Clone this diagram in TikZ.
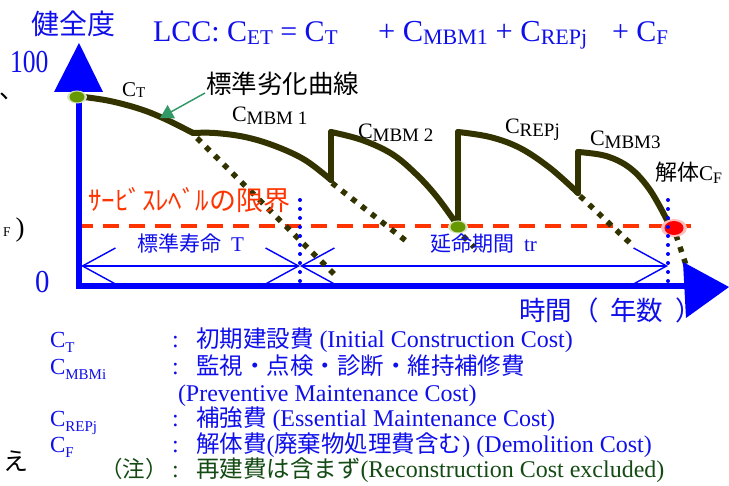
\documentclass[tikz,border=0pt]{standalone}
\usepackage{fontspec}
\setmainfont{Liberation Serif}
\newfontfamily\jp{Noto Sans CJK JP}
\usepackage{graphicx}
\usetikzlibrary{arrows.meta}
\definecolor{tblue}{RGB}{15,15,235}
\definecolor{axblue}{RGB}{0,0,255}
\definecolor{limred}{RGB}{255,51,0}
\definecolor{curvec}{RGB}{51,51,0}
\definecolor{arrgreen}{RGB}{51,153,102}
\definecolor{dotgreen}{RGB}{102,153,0}
\definecolor{halogreen}{RGB}{215,230,190}
\definecolor{halored}{RGB}{255,190,190}
\definecolor{notegreen}{RGB}{20,75,20}
\newcommand\fs[1]{\fontsize{#1}{#1}\selectfont}
\newcommand\Sb[3]{\raisebox{-#1}{\fs{#2}#3}}
\begin{document}
\begin{tikzpicture}[x=1pt,y=-1pt,
  txt/.style={inner sep=0pt, outer sep=0pt, anchor=base west},
  deg/.style={draw=curvec, line width=6pt, line join=round, line cap=round},
  ext/.style={draw=curvec, line width=5.5pt, dash pattern=on 5.5pt off 7pt},
  bdot/.style={draw=axblue, line width=4pt, line cap=round, dash pattern=on 0pt off 9pt},
  dimline/.style={draw=axblue, line width=1.4pt, {Straight Barb[length=33pt,width=36pt]}-{Straight Barb[length=33pt,width=36pt]}},
  limit/.style={draw=limred, line width=4pt, dash pattern=on 16pt off 10pt},
  axis/.style={draw=axblue, line width=6pt},
  leg/.style={txt, text=tblue},
]
\useasboundingbox (0,0) rectangle (729,486);

% coordinates
\coordinate (o) at (78.5,286);
\coordinate (s0) at (84,97);
\coordinate (k1) at (193,133);
\coordinate (m1b) at (331,180);
\coordinate (m1t) at (331,132);
\coordinate (r0) at (458,226);
\coordinate (rt) at (458,132);
\coordinate (m3b) at (578,193);
\coordinate (m3t) at (578,152);
\coordinate (endp) at (668,222);
\coordinate (dL) at (81,266);
\coordinate (dM) at (300,266);
\coordinate (dR) at (668,266);

% dimension lines
\draw[dimline] (dL) -- (dM);
\draw[dimline] (dM) -- (dR);

% service limit
\draw[limit] (77,226) -- (698,226);

% extensions of the deterioration curves
\draw[ext] (197,138) -- (336,276);
\draw[ext] (332,183) -- (410,244);
\draw[ext] (463,236) -- (474,247);
\draw[ext] (580,196) -- (630,243);
\draw[ext] (676,235) -- (693,286);

% axes
\draw[axis] (78.5,289) -- (78.5,90);
\fill[axblue] (54,92) -- (79,43) -- (103,92) -- cycle;
\draw[axis] (75.5,286) -- (690,286);
\fill[axblue] (683,262) -- (729,287) -- (686,318) -- cycle;

% deterioration curve
\draw[deg] plot[smooth, tension=0.6] coordinates {(s0) (110,101) (140,109) (165,119) (k1)};
\draw[deg] plot[smooth, tension=0.6] coordinates {(k1) (215,133) (245,137) (275,146) (305,160) (m1b)};
\draw[deg] (m1b) -- (m1t);
\draw[deg] plot[smooth, tension=0.6] coordinates {(m1t) (362,140) (392,154) (416,174) (437,197) (r0)};
\draw[deg] (r0) -- (rt);
\draw[deg] plot[smooth, tension=0.6] coordinates {(rt) (490,137) (520,148) (550,168) (m3b)};
\draw[deg] (m3b) -- (m3t);
\draw[deg] plot[smooth, tension=0.6] coordinates {(m3t) (606,156) (630,168) (650,190) (endp)};

% markers
\fill[halogreen] (77,97) ellipse [x radius=10, y radius=6.5];
\fill[dotgreen] (77,97) ellipse [x radius=7.5, y radius=5.5];
\fill[halogreen] (458,227) ellipse [x radius=10, y radius=6.5];
\fill[dotgreen] (458,227) ellipse [x radius=7.5, y radius=5.5];
\fill[halored] (674,228) ellipse [x radius=13, y radius=9];
\fill[red] (674,228) ellipse [x radius=9.5, y radius=7];

% blue dotted verticals
\draw[bdot] (300,200) -- (300,285);
\draw[bdot] (668,200) -- (668,285);

% axis labels
\node[txt, text=tblue] (ylab) at (31,35) {\jp\fs{28pt}健全度};
\node[txt, text=tblue] (y100) at (10,73) {\fs{32pt}\scalebox{0.8}[1]{100}};
\node[txt, text=tblue] (y0) at (35,293) {\fs{32pt}\scalebox{0.9}[1]{0}};
\node[txt, text=tblue] (xlab) at (519,321) {\jp\fs{26.5pt}時間（\hspace{12pt}年数\hspace{12pt}）};

% title
\node[txt, text=tblue] (title1) at (153,42) {\fs{30pt}LCC: C\Sb{3pt}{21pt}{ET} = C\Sb{3pt}{21pt}{T}};
\node[txt, text=tblue] (title2) at (378,42) {\fs{30.5pt}+ C\Sb{3pt}{22pt}{MBM1} + C\Sb{3pt}{22pt}{REPj}};
\node[txt, text=tblue] (title3) at (612,42) {\fs{30pt}+ C\Sb{3pt}{21pt}{F}};

% curve labels
\node[txt] (lct) at (122,97) {\fs{21pt}C\Sb{1pt}{15pt}{T}};
\node[txt] (curvelab) at (206,94) {\jp\fs{25.5pt}標準劣化曲線};
\coordinate (arrstart) at (205,93);
\coordinate (arrtip) at (160,118);
\draw[draw=arrgreen, line width=1.5pt, -{Triangle[length=13pt,width=15pt]}] (arrstart) -- (arrtip);
\node[txt] (lm1) at (232,122) {\fs{22pt}C\Sb{3pt}{19pt}{MBM 1}};
\node[txt] (lm2) at (358,139) {\fs{22pt}C\Sb{3pt}{19pt}{MBM 2}};
\node[txt] (lrep) at (505,134) {\fs{22pt}C\Sb{3pt}{19pt}{REPj}};
\node[txt] (lm3) at (590,146) {\fs{22pt}C\Sb{3pt}{19pt}{MBM3}};
\node[txt] (lcf) at (655,181) {{\jp\fs{22pt}解体}{\fs{21pt}C\Sb{3pt}{16pt}{F}}};

% service limit label
\node[txt, text=limred] (limlab) at (88,211) {\jp\fs{27pt}ｻｰﾋﾞｽﾚﾍﾞﾙの限界};

% dimension labels
\node[txt, text=tblue] (tlab) at (137,252) {{\jp\fs{21pt}標準寿命}\hspace{10pt}{\fs{21pt}T}};
\node[txt, text=tblue] (trlab) at (430,252) {{\jp\fs{21pt}延命期間}\hspace{10pt}{\fs{21pt}tr}};

% legend
\node[leg] (c1) at (50,348) {\fs{23pt}C\Sb{5pt}{15pt}{T}};
\node[leg] (k1c) at (172,348) {\fs{24pt}:};
\node[leg] (t1) at (196,348) {{\jp\fs{23.5pt}初期建設費}\fs{24pt} (Initial Construction Cost)};
\node[leg] (c2) at (50,375) {\fs{23pt}C\Sb{5pt}{15pt}{MBMi}};
\node[leg] (k2c) at (172,375) {\fs{24pt}:};
\node[leg] (t2) at (196,375) {\jp\fs{23.5pt}監視・点検・診断・維持補修費};
\node[leg] (t3) at (178,402) {\fs{24pt}(Preventive Maintenance Cost)};
\node[leg] (c4) at (50,427) {\fs{23pt}C\Sb{5pt}{15pt}{REPj}};
\node[leg] (k4c) at (172,427) {\fs{24pt}:};
\node[leg] (t4) at (196,427) {{\jp\fs{23.5pt}補強費}\fs{24pt} (Essential Maintenance Cost)};
\node[leg] (c5) at (50,453) {\fs{23pt}C\Sb{5pt}{15pt}{F}};
\node[leg] (k5c) at (172,453) {\fs{24pt}:};
\node[leg] (t5) at (196,453) {{\jp\fs{23.5pt}解体費}\fs{24pt}({\jp\fs{23.5pt}廃棄物処理費含む}) (Demolition Cost)};
\node[txt, text=notegreen] (c6) at (100,478) {\jp\fs{22.5pt}（注）};
\node[txt, text=notegreen] (k6c) at (172,478) {\fs{24pt}:};
\node[txt, text=notegreen] (t6) at (196,478) {{\jp\fs{23.5pt}再建費は含まず}\fs{24pt}(Reconstruction Cost excluded)};

% fragments at the left edge
\node[txt] (frag1) at (-1,99) {\jp\fs{25pt}、};
\node[txt] (frag2) at (3,237) {{\fs{13.5pt}F}\hspace{5pt}{\fs{27pt})}};
\node[txt] (frag3) at (4,471) {\jp\fs{25pt}え};
\end{tikzpicture}
\end{document}
